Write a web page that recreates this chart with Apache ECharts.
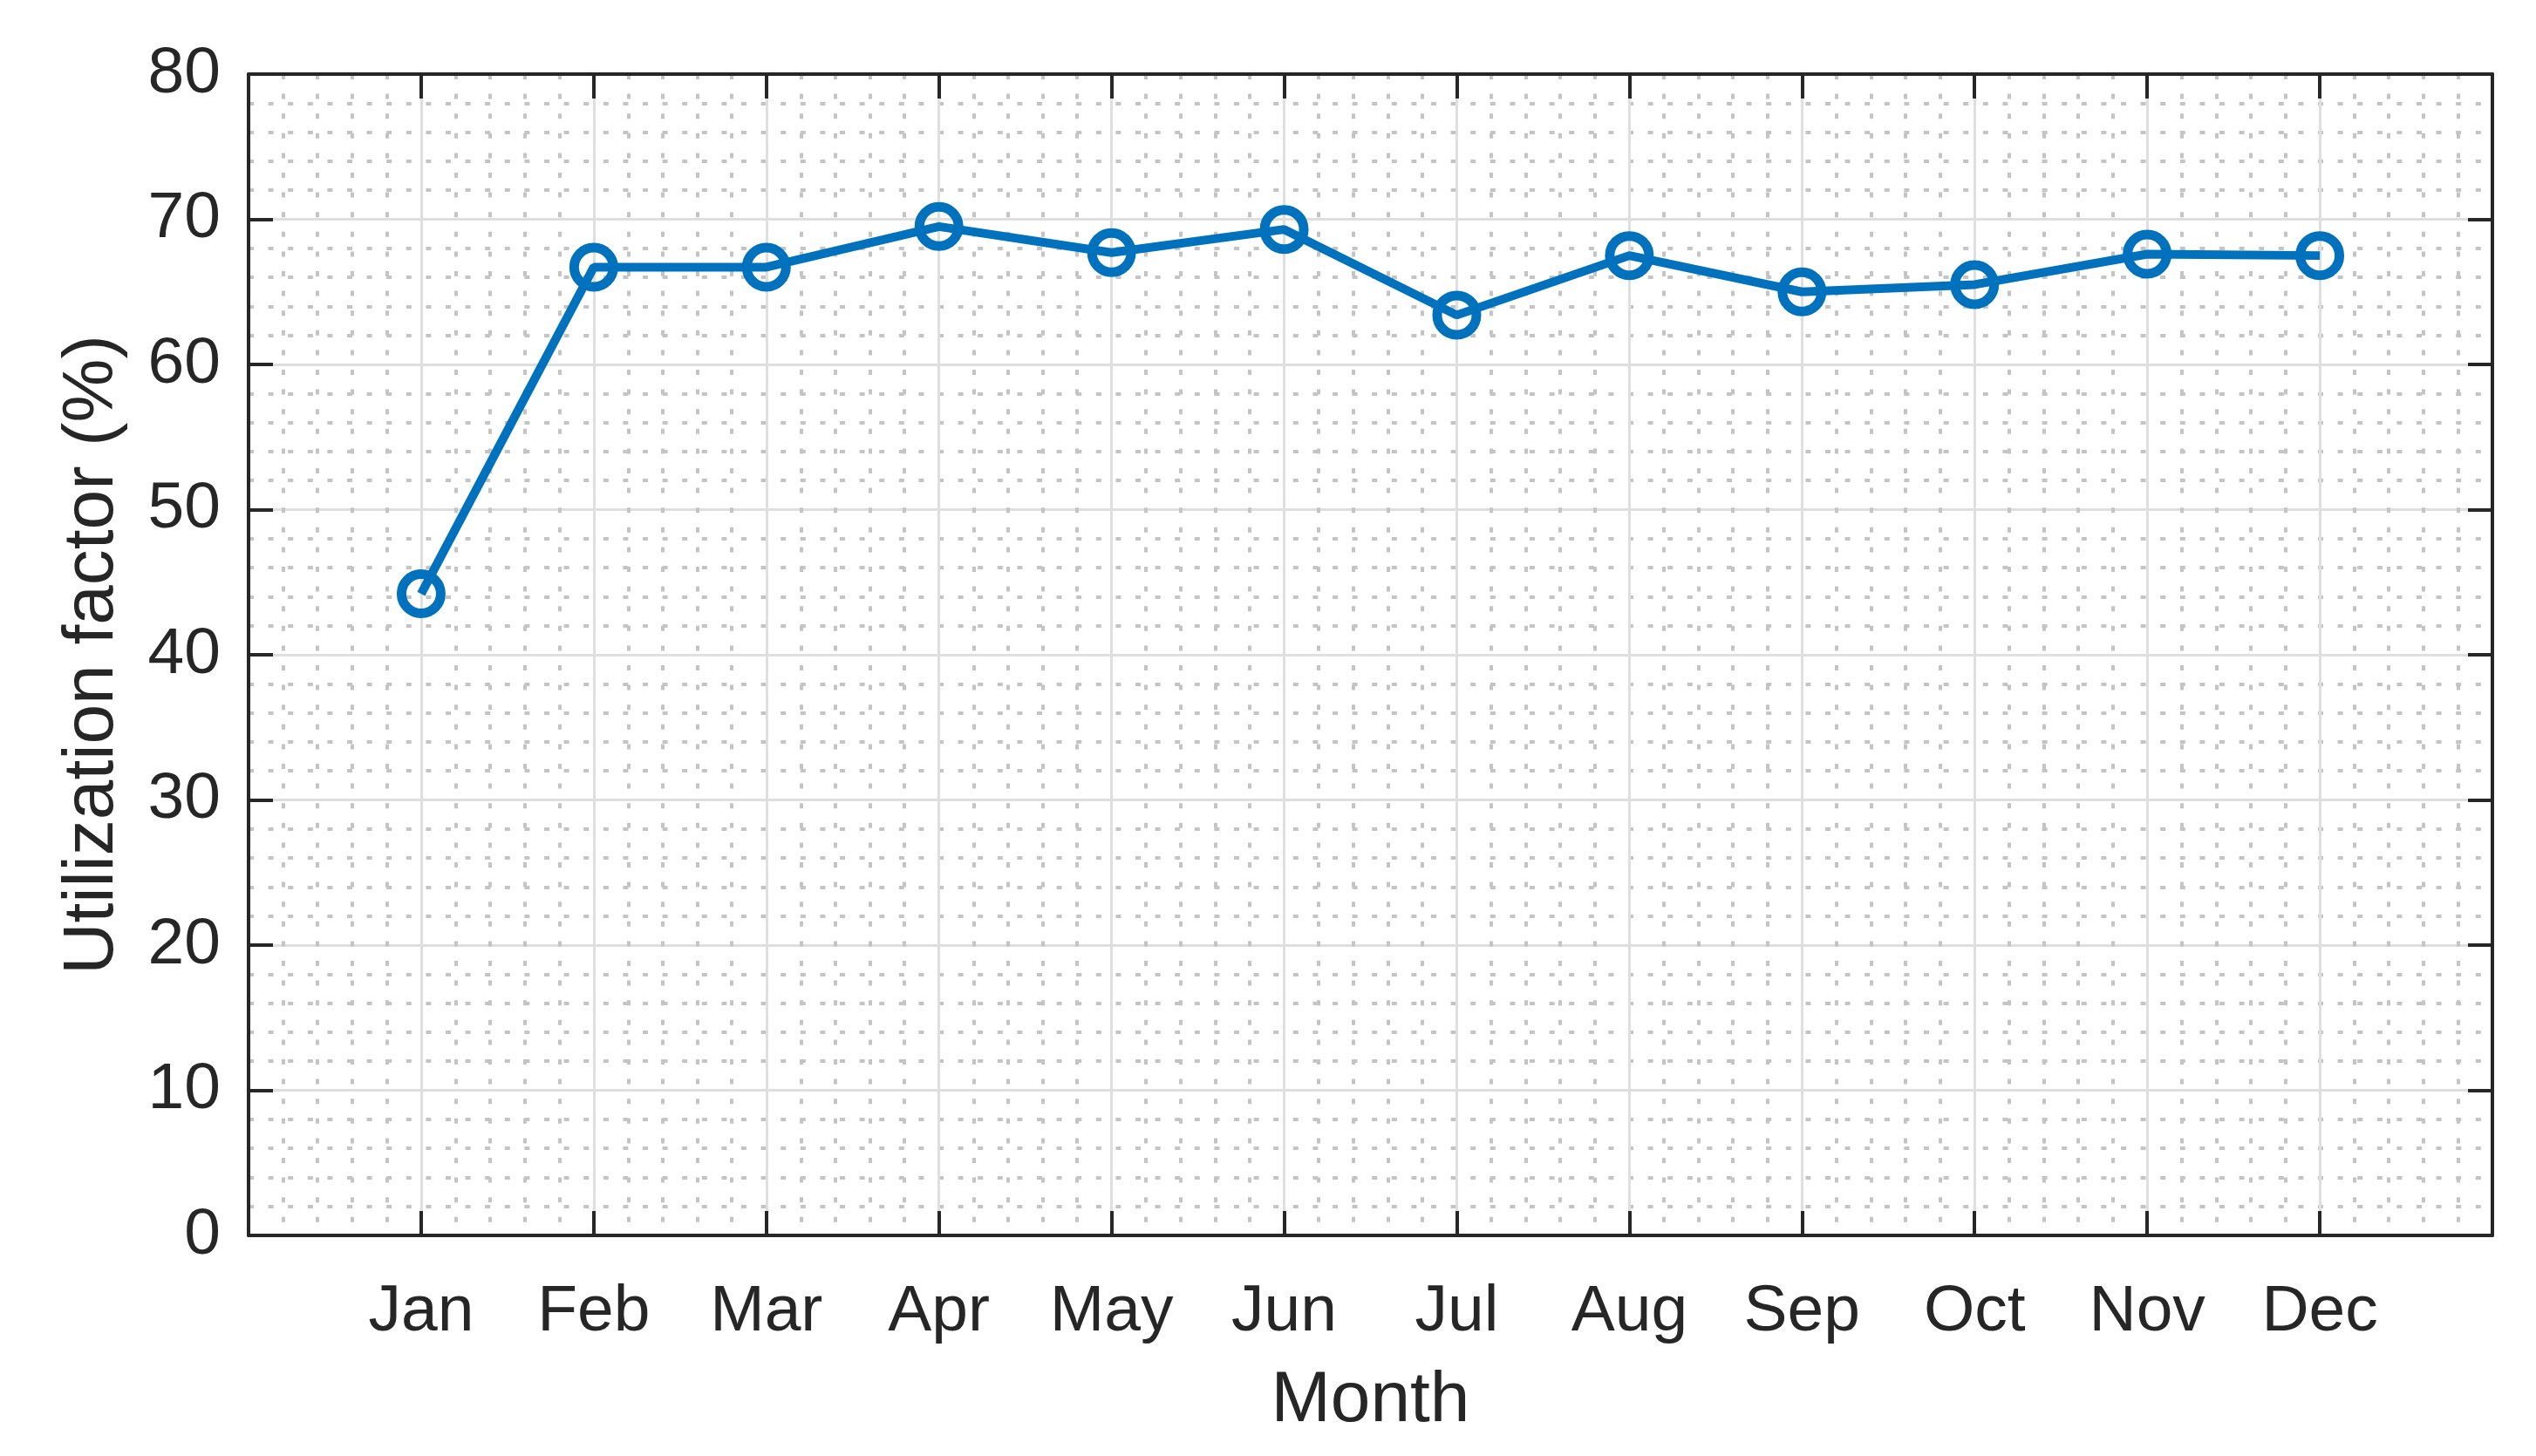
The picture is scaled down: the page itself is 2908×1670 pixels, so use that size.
<!DOCTYPE html>
<html>
<head>
<meta charset="utf-8">
<title>Utilization factor by month</title>
<script src="https://cdn.jsdelivr.net/npm/echarts@6.0.0/dist/echarts.min.js"></script>
<style>
    html, body { margin: 0; padding: 0; background: #fff; }
    #chart { width: 2908px; height: 1670px; }
</style>
</head>
<body>
<div id="chart"></div>
<script>
// data
const months = ['Jan', 'Feb', 'Mar', 'Apr', 'May', 'Jun', 'Jul', 'Aug', 'Sep', 'Oct', 'Nov', 'Dec'];
const utilization = [44.2, 66.7, 66.7, 69.5, 67.7, 69.3, 63.4, 67.5, 65.0, 65.5, 67.6, 67.5];
const yTicks = [0, 10, 20, 30, 40, 50, 60, 70, 80];

const textColor = '#262626';
const font = '"Liberation Sans", Arial, sans-serif';

// months sit at x = 1..12 on a 0..13 axis
const points = months.map((m, i) => [i + 1, utilization[i]]);

const frameLine = { show: true, onZero: false, lineStyle: { color: textColor, width: 4 } };
const inTick = { show: true, inside: true, length: 28, lineStyle: { color: textColor, width: 4 } };

const chart = echarts.init(document.getElementById('chart'));

const option = {
    backgroundColor: '#ffffff',
    animation: false,
    grid: {
        left: 285,
        right: 50,
        top: 85,
        bottom: 253
    },
    xAxis: [
        {
            type: 'value',
            min: 0,
            max: 13,
            interval: 1,
            position: 'bottom',
            name: 'Month',
            nameLocation: 'middle',
            nameGap: 149,
            nameTextStyle: { color: textColor, fontSize: 82, fontFamily: font },
            axisLine: frameLine,
            axisTick: inTick,
            axisLabel: {
                color: textColor,
                fontSize: 75,
                fontFamily: font,
                margin: 51,
                formatter: v => months[v - 1] || ''
            },
            splitLine: { show: true, lineStyle: { color: '#dfdfdf', width: 3 } },
            minorTick: { show: false, splitNumber: 5 },
            minorSplitLine: { show: true, lineStyle: { color: '#c4c4c4', width: 4, type: [6, 16.6] } }
        },
        {
            type: 'value',
            min: 0,
            max: 13,
            interval: 1,
            position: 'top',
            axisLine: frameLine,
            axisTick: inTick,
            axisLabel: { show: false },
            splitLine: { show: false }
        }
    ],
    yAxis: [
        {
            type: 'value',
            min: yTicks[0],
            max: yTicks[yTicks.length - 1],
            interval: 10,
            position: 'left',
            name: 'Utilization factor (%)',
            nameLocation: 'middle',
            nameGap: 138,
            nameTextStyle: { color: textColor, fontSize: 82, fontFamily: font },
            axisLine: frameLine,
            axisTick: inTick,
            axisLabel: { color: textColor, fontSize: 75, fontFamily: font, margin: 32 },
            splitLine: { show: true, lineStyle: { color: '#dfdfdf', width: 3 } },
            minorTick: { show: false, splitNumber: 5 },
            minorSplitLine: { show: true, lineStyle: { color: '#c4c4c4', width: 4, type: [6, 16.6] } }
        },
        {
            type: 'value',
            min: yTicks[0],
            max: yTicks[yTicks.length - 1],
            interval: 10,
            position: 'right',
            axisLine: frameLine,
            axisTick: inTick,
            axisLabel: { show: false },
            splitLine: { show: false }
        }
    ],
    series: [
        {
            name: 'Utilization factor',
            type: 'line',
            xAxisIndex: 0,
            yAxisIndex: 0,
            data: points,
            symbol: 'circle',
            symbolSize: 45,
            lineStyle: { color: '#0072BD', width: 10 },
            itemStyle: { color: 'rgba(0,0,0,0)', borderColor: '#0072BD', borderWidth: 11 },
            z: 5
        }
    ]
};

chart.setOption(option);
</script>
</body>
</html>
